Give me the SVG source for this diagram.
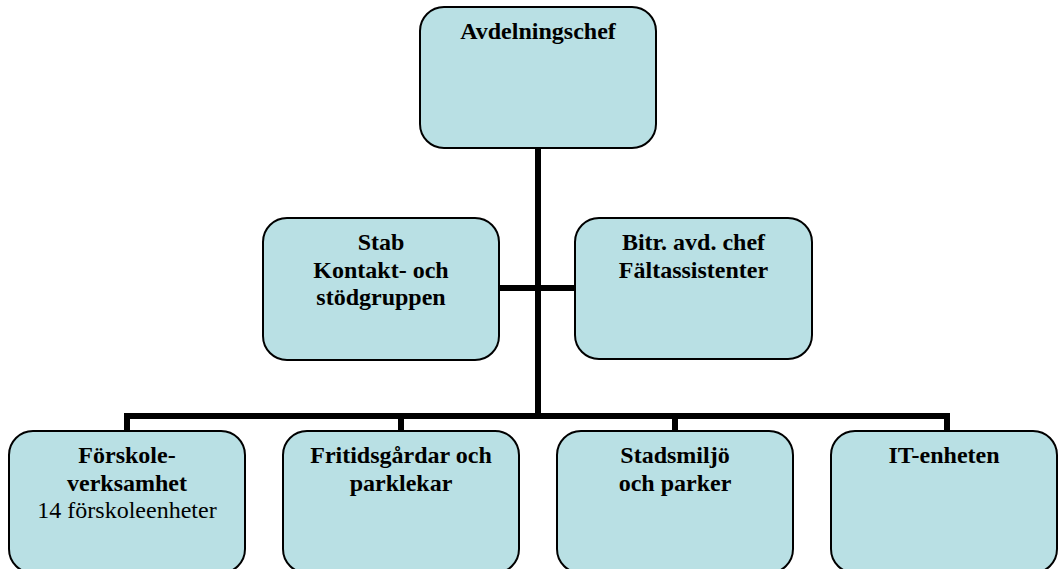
<svg xmlns="http://www.w3.org/2000/svg" width="1059" height="569" viewBox="0 0 1059 569">
<style>
.box{fill:#B9E0E4;stroke:#000;stroke-width:2}
.t{font-family:"Liberation Serif","Times New Roman",serif;font-size:24px;font-weight:bold;fill:#000;text-anchor:middle}
.r{font-weight:normal}
.c{fill:none;stroke:#000;stroke-width:6;stroke-linecap:butt}
</style>
<rect width="1059" height="569" fill="#fff"/>
<g id="connectors">
<path class="c" d="M538,147 V416"/>
<path class="c" d="M499,288 H575"/>
<path class="c" d="M127,433 V416 H947 V433"/>
<path class="c" d="M401,416 V433"/>
<path class="c" d="M675,416 V433"/>
</g>
<g id="n-avdelningschef">
<rect class="box" x="420" y="7" width="236" height="141" rx="24"/>
<text class="t" x="538" y="38.5">Avdelningschef</text>
</g>
<g id="n-stab">
<rect class="box" x="263" y="218" width="236" height="142" rx="24"/>
<text class="t" x="381" y="250">Stab</text>
<text class="t" x="381" y="277.6">Kontakt- och</text>
<text class="t" x="381" y="305.2">stödgruppen</text>
</g>
<g id="n-bitr">
<rect class="box" x="575" y="218" width="237" height="141" rx="24"/>
<text class="t" x="693.5" y="250">Bitr. avd. chef</text>
<text class="t" x="693.5" y="277.6">Fältassistenter</text>
</g>
<g id="n-forskole">
<rect class="box" x="9" y="431" width="236" height="142" rx="24"/>
<text class="t" x="127" y="463">Förskole-</text>
<text class="t" x="127" y="490.6">verksamhet</text>
<text class="t r" x="127" y="518.2">14 förskoleenheter</text>
</g>
<g id="n-fritids">
<rect class="box" x="283" y="431" width="236" height="142" rx="24"/>
<text class="t" x="401" y="463">Fritidsgårdar och</text>
<text class="t" x="401" y="490.6">parklekar</text>
</g>
<g id="n-stadsmiljo">
<rect class="box" x="557" y="431" width="236" height="142" rx="24"/>
<text class="t" x="675" y="463">Stadsmiljö</text>
<text class="t" x="675" y="490.6">och parker</text>
</g>
<g id="n-it">
<rect class="box" x="831" y="431" width="226" height="142" rx="24"/>
<text class="t" x="944" y="463">IT-enheten</text>
</g>
</svg>
